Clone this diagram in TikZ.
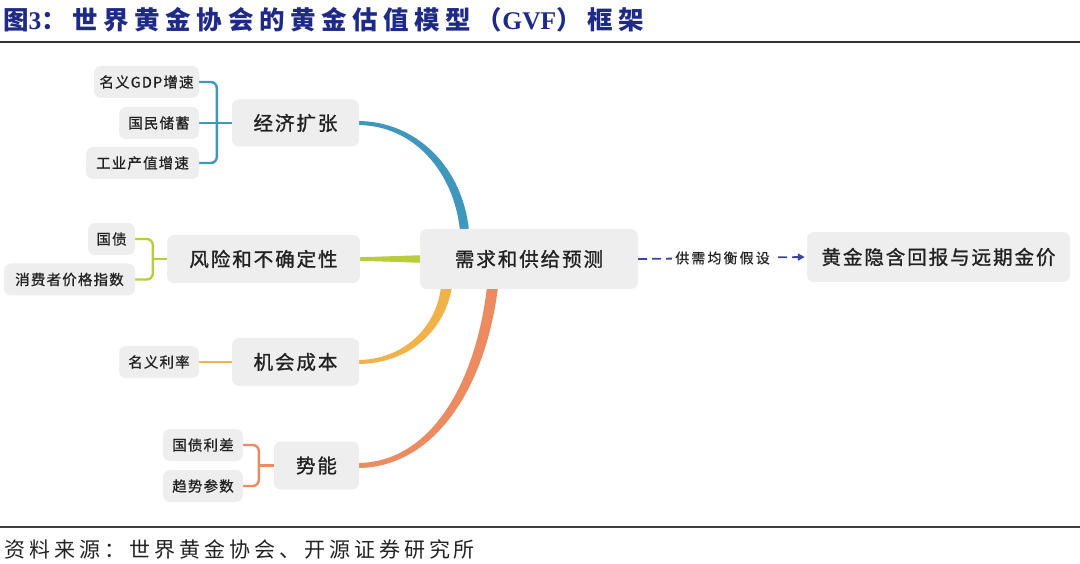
\documentclass[tikz,border=0pt]{standalone}
\usepackage{fontspec}
\setmainfont{Noto Sans CJK SC}
\newfontfamily\titlefont[LetterSpace=22]{Noto Sans CJK SC}
\newfontfamily\srcfont[LetterSpace=19]{Noto Sans CJK SC}
\newfontfamily\parfont[LetterSpace=10,FakeBold=1.2]{Noto Sans CJK SC}
\newfontfamily\chfont[LetterSpace=8,FakeBold=0.8]{Noto Sans CJK SC}
\newfontfamily\lblfont[LetterSpace=15,FakeBold=0.6]{Noto Sans CJK SC}
\newfontfamily\serifb{Liberation Serif}
\usetikzlibrary{arrows.meta,calc}
\pgfdeclarelayer{bg}
\pgfsetlayers{bg,main}
\definecolor{titleblue}{HTML}{1F2A87}
\definecolor{boxgray}{HTML}{EEEEEE}
\definecolor{cblue}{HTML}{3F98BB}
\definecolor{cgreen}{HTML}{B8CC3C}
\definecolor{corange}{HTML}{F2B24A}
\definecolor{ccoral}{HTML}{EC8A60}
\definecolor{dashblue}{HTML}{3A44A6}
\definecolor{txt}{HTML}{222222}
\begin{document}
\begin{tikzpicture}[x=1pt,y=-1pt,
  box/.style={fill=boxgray,rounded corners=7,inner sep=0pt,align=center,text=txt},
  child/.style={box,minimum height=32,font=\chfont\fontsize{14.5}{17}\selectfont},
  parent/.style={box,font=\parfont\fontsize{19.5}{23}\selectfont},
  bracket/.style={line width=2.4,rounded corners=6},
  flow/.style={draw=dashblue,line width=1.8,dash pattern=on 9pt off 5pt,-{Triangle[length=7,width=7]}},
]
\useasboundingbox (0,0) rectangle (1080,564);
% title and rules
\node[anchor=west,inner sep=0,text=titleblue,font=\titlefont\bfseries\fontsize{25.5}{29}\selectfont] (title) at (3,20) {图{\serifb\bfseries 3}：世界黄金协会的黄金估值模型（{\serifb\bfseries GVF}）框架};
\draw[line width=1.2,draw=black!80] (0,42) -- (1080,42);
\draw[line width=2.4,draw=black!75] (0,527) -- (1080,527);
\node[anchor=west,inner sep=0,text=txt,font=\srcfont\fontsize{21}{25}\selectfont] (src) at (4,549) {资料来源：世界黄金协会、开源证券研究所};
% main nodes
\node[parent,minimum width=127,minimum height=47] (econ) at (295.5,123) {经济扩张};
\node[parent,minimum width=193,minimum height=48] (risk) at (263.5,259) {风险和不确定性};
\node[parent,minimum width=127,minimum height=48] (opp) at (295.5,362) {机会成本};
\node[parent,minimum width=85,minimum height=48] (mom) at (316.5,465.5) {势能};
\node[parent,minimum width=218,minimum height=60] (dem) at (529,259) {需求和供给预测};
\node[parent,minimum width=263,minimum height=50] (tgt) at (938.5,257) {黄金隐含回报与远期金价};
% children
\node[child,minimum width=105] (gdp) at (146.5,82) {名义GDP增速};
\node[child,minimum width=80] (sav) at (159,123) {国民储蓄};
\node[child,minimum width=113] (ind) at (142.5,163) {工业产值增速};
\node[child,minimum width=47] (gz) at (111.5,239) {国债};
\node[child,minimum width=131] (cpi) at (69.5,279.5) {消费者价格指数};
\node[child,minimum width=80] (rate) at (159,362) {名义利率};
\node[child,minimum width=80] (spr) at (203,445) {国债利差};
\node[child,minimum width=80] (trd) at (203,486) {趋势参数};
% bracket points
\coordinate (bx1) at ($(econ.west)+(-15,0)$);
\coordinate (bx2) at ($(risk.west)+(-14,0)$);
\coordinate (bx3) at ($(mom.west)+(-15,0)$);
\begin{pgfonlayer}{bg}
  % tapered branches
  \fill[cblue] ($(econ.east)+(-2,-2)$) .. controls (417,121) and (463,168) .. ($(dem.north)+(-60,2)$)
     -- ($(dem.north)+(-69,2)$) .. controls (454,172) and (414,125) .. ($(econ.east)+(-2,2)$) -- cycle;
  \fill[cgreen] ($(risk.east)+(-2,-1.7)$) -- ($(dem.west)+(2,-3.8)$) -- ($(dem.west)+(2,3.8)$) -- ($(risk.east)+(-2,1.7)$) -- cycle;
  \fill[corange] ($(opp.east)+(-2,-2)$) .. controls (403,360) and (436,328) .. ($(dem.south)+(-88,-2)$)
     -- ($(dem.south)+(-77,-2)$) .. controls (444,333) and (407,364) .. ($(opp.east)+(-2,2)$) -- cycle;
  \fill[ccoral] ($(mom.east)+(-2,-2.5)$) .. controls (428,463) and (475,388) .. ($(dem.south)+(-42,-2)$)
     -- ($(dem.south)+(-31,-2)$) .. controls (485,392) and (432,468) .. ($(mom.east)+(-2,2.5)$) -- cycle;
  % brackets
  \draw[bracket,cblue] (gdp.east) -| (bx1) |- (ind.east);
  \draw[bracket,cblue] (sav.east) -- (econ.west);
  \draw[bracket,cgreen] (gz.east) -| (bx2) |- (cpi.east);
  \draw[bracket,cgreen] (bx2) -- (risk.west);
  \draw[bracket,corange] (rate.east) -- (opp.west);
  \draw[bracket,ccoral] (spr.east) -| (bx3) |- (trd.east);
  \draw[bracket,ccoral] (bx3) -- (mom.west);
\end{pgfonlayer}
% dashed arrow
\draw[flow,shorten >=2] (dem.east) -- node[fill=white,inner xsep=3,inner ysep=2,text=txt,font=\lblfont\fontsize{14}{16}\selectfont] (lbl) {供需均衡假设} (tgt.west);
\end{tikzpicture}
\end{document}
